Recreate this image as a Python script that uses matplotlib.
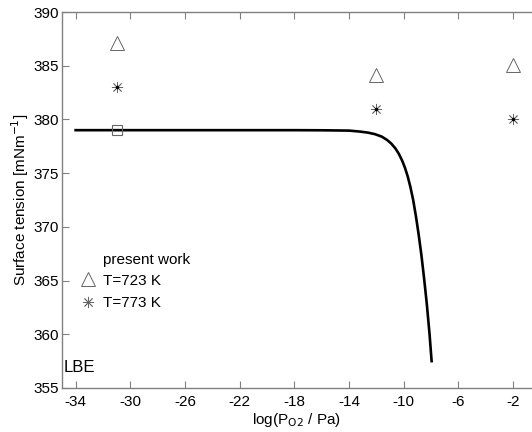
import matplotlib
matplotlib.use("Agg")
import matplotlib.pyplot as plt
from matplotlib.lines import Line2D

plt.rcParams['font.family'] = ['Liberation Sans', 'DejaVu Sans']
plt.rcParams['font.size'] = 11
plt.rcParams['axes.unicode_minus'] = False

# model curve
curve_x = [-34, -30, -26, -22, -18, -16, -14, -13.2, -12.6, -12.1, -11.6, -11.2,
           -10.9, -10.6, -10.35, -10.1, -9.9, -9.7, -9.5, -9.3, -9.1, -8.9,
           -8.7, -8.5, -8.3, -8.1, -7.95]
curve_y = [379.0, 379.0, 379.0, 379.0, 379.0, 378.99, 378.96, 378.87, 378.77, 378.63,
           378.4, 378.08, 377.75, 377.3, 376.8, 376.15, 375.5, 374.7, 373.7, 372.5,
           371.0, 369.3, 367.4, 365.2, 362.8, 360.0, 357.5]

# measured points, present work
t723_x = [-31, -12, -2]
t723_y = [387.1, 384.1, 385.1]
t773_x = [-31, -12, -2]
t773_y = [383.0, 381.0, 380.0]
ref_x = [-31]
ref_y = [379.0]

xticks = [-34, -30, -26, -22, -18, -14, -10, -6, -2]
yticks = [355, 360, 365, 370, 375, 380, 385, 390]

fig = plt.figure(figsize=(5.32, 4.32), dpi=100)
ax = fig.add_axes([0.1165, 0.1019, 0.899, 0.8703])

gray = '#666666'
star = (8, 2, 0)

ax.plot(curve_x, curve_y, color='black', linewidth=1.9, zorder=3)
ax.plot(t723_x, t723_y, linestyle='none', marker='^', markersize=10,
        markerfacecolor='none', markeredgecolor=gray, markeredgewidth=0.7)
ax.plot(t773_x, t773_y, linestyle='none', marker=star, markersize=8,
        color=gray, markeredgewidth=0.6)
ax.plot(t773_x, t773_y, linestyle='none', marker='o', markersize=1.5, color='black')
ax.plot(ref_x, ref_y, linestyle='none', marker='s', markersize=7,
        markerfacecolor='none', markeredgecolor=gray, markeredgewidth=0.8, zorder=4)

ax.set_xlim(-35, 0)
ax.set_ylim(355, 390)
ax.set_xticks(xticks)
ax.set_yticks(yticks)
ax.tick_params(direction='in', length=5, width=0.8, color='#808080',
               top=True, right=True)
ax.tick_params(axis='x', pad=5)
ax.tick_params(axis='y', pad=2)

for sp in ax.spines.values():
    sp.set_color('#808080')
    sp.set_linewidth(1.0)

ax.set_xlabel('log(P$_{\\mathrm{O2}}$ / Pa)')
ax.xaxis.set_label_coords(0.49, -0.062)
ax.set_ylabel('Surface tension [mNm$^{-1}$]')
ax.yaxis.set_label_coords(-0.065, 0.5)

ax.text(0.003, 0.035, 'LBE', transform=ax.transAxes, fontsize=12,
        ha='left', va='bottom')

handles = [
    Line2D([], [], linestyle='none', marker='^', markersize=10,
           markerfacecolor='none', markeredgecolor=gray, markeredgewidth=0.7),
    Line2D([], [], linestyle='none', marker=star, markersize=8,
           color=gray, markeredgewidth=0.6),
]
ax.legend(handles, ['T=723 K', 'T=773 K'], loc='upper left',
          bbox_to_anchor=(0.026, 0.3205), borderaxespad=0, frameon=False,
          handlelength=1.0, handletextpad=0.5, labelspacing=0.55, fontsize=11)
ax.text(0.0858, 0.340, 'present work', transform=ax.transAxes,
        ha='left', va='center', fontsize=11)

fig.savefig('out.png', dpi=100)
